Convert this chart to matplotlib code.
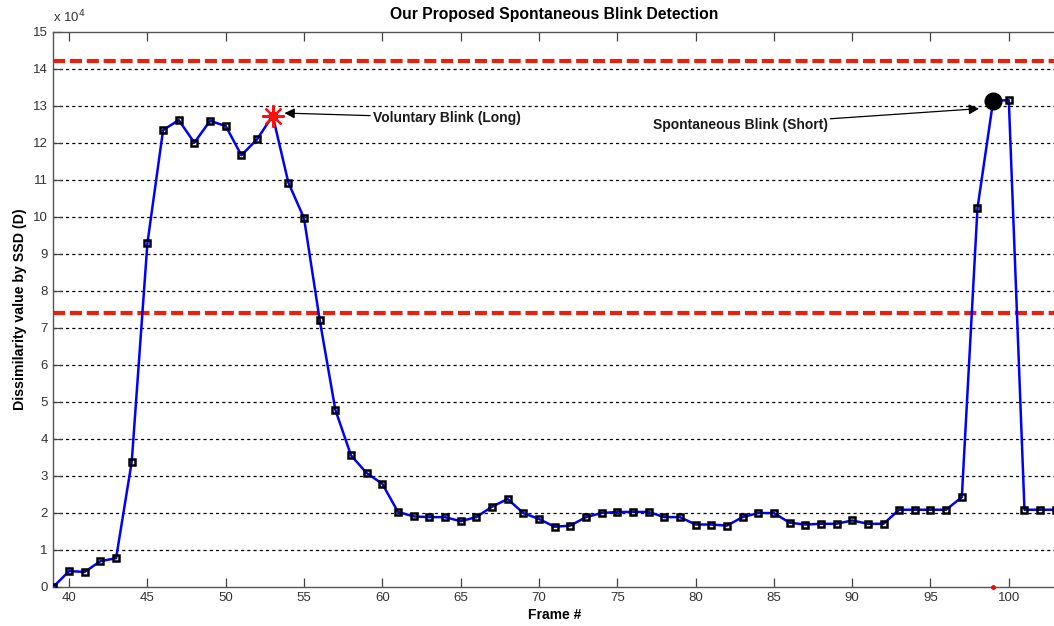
import matplotlib
matplotlib.use("Agg")
import matplotlib.pyplot as plt

# frame numbers and SSD dissimilarity values (x 10^4)
frames = list(range(39, 104))
ssd = [
    0.00, 0.42, 0.40, 0.69, 0.77, 3.38, 9.28, 12.34, 12.61, 12.00,
    12.59, 12.45, 11.66, 12.09, 12.73, 10.92, 9.96, 7.21, 4.78, 3.55,
    3.07, 2.78, 2.02, 1.90, 1.88, 1.88, 1.77, 1.88, 2.16, 2.37,
    1.99, 1.83, 1.62, 1.65, 1.88, 1.99, 2.02, 2.02, 2.02, 1.88,
    1.88, 1.68, 1.68, 1.65, 1.88, 1.99, 1.99, 1.73, 1.68, 1.70,
    1.70, 1.79, 1.70, 1.70, 2.08, 2.08, 2.08, 2.08, 2.42, 10.23,
    13.13, 13.15, 2.08, 2.08, 2.08,
]

# detection thresholds
upper_thresh = 14.2
lower_thresh = 7.4

# detected blinks
voluntary_frame = 53
spontaneous_frame = 99

plt.rcParams["font.family"] = ["Liberation Sans", "DejaVu Sans"]

fig = plt.figure(figsize=(10.54, 6.26), dpi=100)
ax = fig.add_axes([0.0507, 0.0628, 0.951, 0.8866])

ax.set_xlim(39, 103)
ax.set_ylim(0, 15)

# horizontal dotted grid
for v in range(1, 15):
    ax.axhline(v, color="black", lw=0.9, ls=(0, (2.5, 2.5)), zorder=1)

ax.axhline(upper_thresh, color="#e8200c", lw=3.0, ls=(0, (2.9, 1.15)), zorder=2)
ax.axhline(lower_thresh, color="#e8200c", lw=3.0, ls=(0, (2.9, 1.15)), zorder=2)

ax.plot(frames, ssd, color="#0000ff", lw=1.8, marker="s", ms=5,
        mec="black", mew=1.8, mfc="none", zorder=3)

vi = frames.index(voluntary_frame)
si = frames.index(spontaneous_frame)
ax.plot(frames[vi], ssd[vi], marker=(8, 2, 0), ms=16, mew=1.6,
        color="#ff1010", zorder=4)
ax.plot(frames[si], ssd[si], marker="o", ms=12, color="black", zorder=4)
ax.plot(frames[si], 0, marker="o", ms=2.5, color="red", zorder=5, clip_on=False)

ax.annotate("Voluntary Blink (Long)", xy=(53.75, 12.8), xytext=(59.4, 12.67),
            fontsize=10, fontweight="bold", color="#1a1a1a", va="center",
            arrowprops=dict(arrowstyle="-|>", color="black", lw=0.9,
                            mutation_scale=15, shrinkA=0, shrinkB=0))
ax.annotate("Spontaneous Blink (Short)", xy=(98.1, 12.92), xytext=(77.25, 12.48),
            fontsize=10, fontweight="bold", color="#1a1a1a", va="center",
            arrowprops=dict(arrowstyle="-|>", color="black", lw=0.9,
                            mutation_scale=15, shrinkA=0, shrinkB=0))

ax.set_xticks(range(40, 101, 5))
ax.set_yticks(range(0, 16))
ax.tick_params(direction="in", length=6.5, width=0.9, top=True, right=False,
               labelsize=9.5, colors="#404040", labelcolor="#333333", pad=4)
for side in ax.spines.values():
    side.set_color("#555555")
    side.set_linewidth(1.0)

ax.set_xlabel("Frame #", fontsize=10, fontweight="bold", labelpad=3)
ax.set_ylabel("Dissimilarity value by SSD (D)", fontsize=10.2,
              fontweight="bold", labelpad=4.5)
ax.set_title("Our Proposed Spontaneous Blink Detection", fontsize=11.3,
             fontweight="bold", pad=9)
ax.text(0.0, 1.012, r"x 10$^4$", transform=ax.transAxes, fontsize=9.5,
        color="#333333", ha="left", va="bottom")

fig.savefig("out.png", dpi=100)
